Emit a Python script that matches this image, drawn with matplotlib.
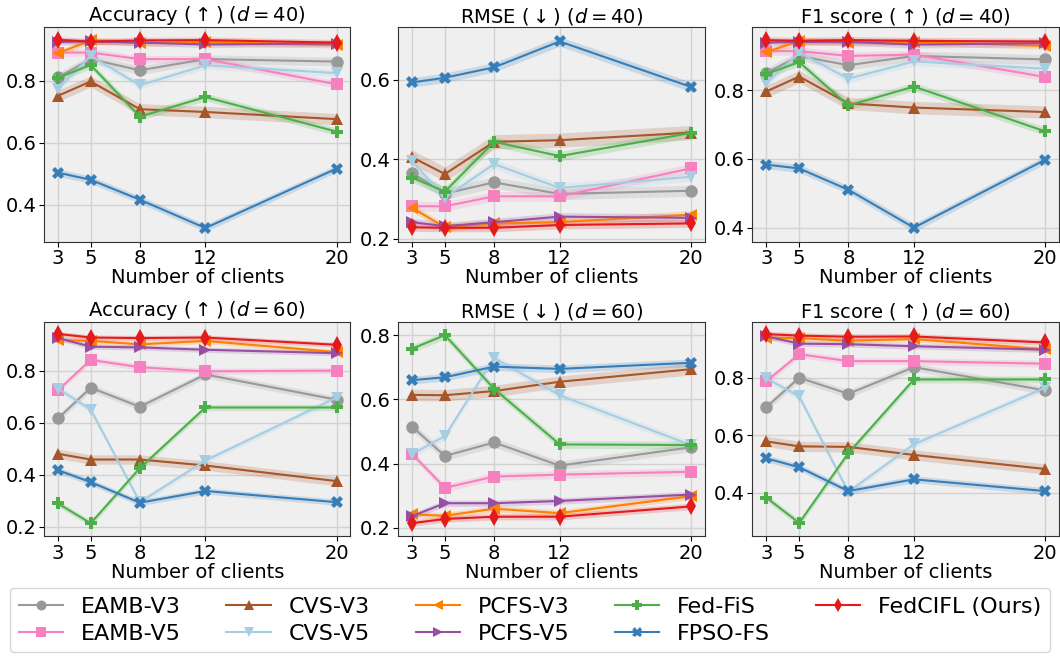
import matplotlib
matplotlib.use('Agg')
import matplotlib.pyplot as plt
from matplotlib.ticker import MultipleLocator
import numpy as np

clients = [3, 5, 8, 12, 20]

methods = ['EAMB-V3', 'EAMB-V5', 'CVS-V3', 'CVS-V5', 'PCFS-V3', 'PCFS-V5',
           'Fed-FiS', 'FPSO-FS', 'FedCIFL (Ours)']
colors = ['#999999', '#f781bf', '#a65628', '#a6cee3', '#ff7f00', '#984ea3',
          '#4daf4a', '#377eb8', '#e41a1c']
markers = ['o', 's', '^', 'v', '<', '>', 'P', 'X', 'd']
# half-width of the shaded band, per method
band = [0.014, 0.012, 0.018, 0.012, 0.010, 0.010, 0.012, 0.012, 0.010]

# ---- d = 40 ----
acc40 = [
    [0.810, 0.869, 0.833, 0.869, 0.861],
    [0.890, 0.890, 0.869, 0.869, 0.788],
    [0.751, 0.797, 0.708, 0.699, 0.676],
    [0.774, 0.879, 0.785, 0.849, 0.824],
    [0.888, 0.929, 0.920, 0.924, 0.914],
    [0.924, 0.926, 0.922, 0.916, 0.919],
    [0.809, 0.850, 0.684, 0.747, 0.636],
    [0.504, 0.481, 0.417, 0.326, 0.517],
    [0.931, 0.925, 0.929, 0.930, 0.922],
]
rmse40 = [
    [0.365, 0.314, 0.342, 0.313, 0.321],
    [0.282, 0.282, 0.307, 0.307, 0.377],
    [0.405, 0.363, 0.444, 0.448, 0.467],
    [0.395, 0.304, 0.388, 0.328, 0.356],
    [0.278, 0.229, 0.239, 0.242, 0.261],
    [0.242, 0.232, 0.242, 0.256, 0.253],
    [0.354, 0.319, 0.444, 0.408, 0.466],
    [0.593, 0.605, 0.631, 0.696, 0.582],
    [0.229, 0.228, 0.228, 0.235, 0.239],
]
f140 = [
    [0.850, 0.899, 0.872, 0.899, 0.889],
    [0.913, 0.913, 0.899, 0.903, 0.838],
    [0.796, 0.839, 0.761, 0.749, 0.736],
    [0.819, 0.909, 0.833, 0.883, 0.862],
    [0.910, 0.943, 0.938, 0.940, 0.928],
    [0.938, 0.940, 0.940, 0.932, 0.936],
    [0.847, 0.881, 0.755, 0.810, 0.680],
    [0.583, 0.572, 0.510, 0.400, 0.597],
    [0.945, 0.943, 0.945, 0.943, 0.941],
]

# ---- d = 60 ----
acc60 = [
    [0.616, 0.734, 0.661, 0.785, 0.688],
    [0.724, 0.841, 0.813, 0.797, 0.800],
    [0.480, 0.458, 0.458, 0.435, 0.375],
    [0.731, 0.650, 0.294, 0.454, 0.696],
    [0.918, 0.914, 0.901, 0.914, 0.871],
    [0.925, 0.892, 0.889, 0.880, 0.867],
    [0.289, 0.213, 0.425, 0.658, 0.658],
    [0.417, 0.371, 0.292, 0.337, 0.294],
    [0.941, 0.927, 0.925, 0.927, 0.899],
]
rmse60 = [
    [0.515, 0.424, 0.466, 0.394, 0.451],
    [0.430, 0.325, 0.360, 0.366, 0.375],
    [0.614, 0.613, 0.626, 0.655, 0.694],
    [0.430, 0.486, 0.729, 0.613, 0.458],
    [0.242, 0.238, 0.260, 0.246, 0.299],
    [0.237, 0.277, 0.277, 0.284, 0.304],
    [0.758, 0.800, 0.633, 0.460, 0.458],
    [0.660, 0.669, 0.702, 0.695, 0.714],
    [0.215, 0.228, 0.235, 0.235, 0.267],
]
f160 = [
    [0.698, 0.800, 0.744, 0.837, 0.756],
    [0.788, 0.882, 0.858, 0.858, 0.849],
    [0.578, 0.561, 0.559, 0.531, 0.482],
    [0.798, 0.735, 0.402, 0.568, 0.765],
    [0.940, 0.938, 0.929, 0.935, 0.899],
    [0.944, 0.919, 0.917, 0.910, 0.898],
    [0.382, 0.294, 0.537, 0.794, 0.794],
    [0.519, 0.488, 0.405, 0.446, 0.405],
    [0.952, 0.947, 0.943, 0.944, 0.923],
]

panels = [
    (acc40, r'Accuracy ($\uparrow$) ($d=40$)'),
    (rmse40, r'RMSE ($\downarrow$) ($d=40$)'),
    (f140, r'F1 score ($\uparrow$) ($d=40$)'),
    (acc60, r'Accuracy ($\uparrow$) ($d=60$)'),
    (rmse60, r'RMSE ($\downarrow$) ($d=60$)'),
    (f160, r'F1 score ($\uparrow$) ($d=60$)'),
]

fig, axes = plt.subplots(2, 3, figsize=(10.6, 6.57), dpi=100)
plt.subplots_adjust(left=0.0415, right=0.999, top=0.959, bottom=0.184,
                    wspace=0.156, hspace=0.373)

for ax, (data, title) in zip(axes.flat, panels):
    ax.set_facecolor('#efefef')
    for vals, name, c, m, b in zip(data, methods, colors, markers, band):
        y = np.array(vals)
        ax.fill_between(clients, y - b, y + b, color=c, alpha=0.2, lw=0)
        ax.plot(clients, y, color=c, marker=m, ms=9, mew=0, lw=1.5, label=name)
    ax.set_xticks(clients)
    ax.yaxis.set_major_locator(MultipleLocator(0.2))
    ax.grid(True, color='#d2d2d2', lw=1)
    ax.set_axisbelow(True)
    ax.tick_params(labelsize=14, pad=2)
    ax.set_title(title, fontsize=14, pad=3)
    ax.set_xlabel('Number of clients', fontsize=14, labelpad=0)
    for s in ax.spines.values():
        s.set_color('#333333')

handles, labels = axes[0, 0].get_legend_handles_labels()
fig.legend(handles, labels, loc='center', bbox_to_anchor=(0.5, 0.056), ncol=5,
           fontsize=16, handlelength=2.0, markerscale=0.8, columnspacing=2.05,
           borderaxespad=0.2, labelspacing=0.3)

fig.savefig('out.png', dpi=100)
